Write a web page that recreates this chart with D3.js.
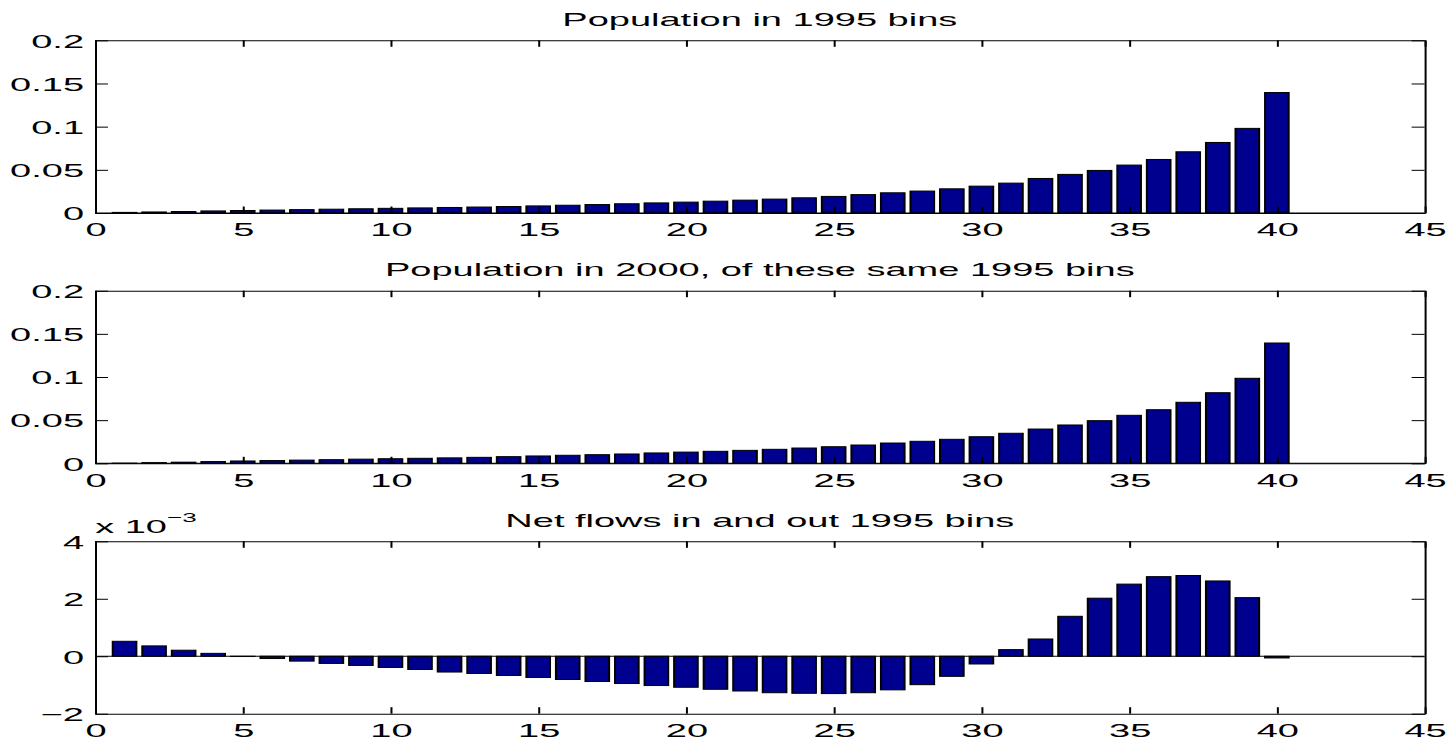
<!DOCTYPE html>
<html>
<head>
<meta charset="utf-8">
<script src="https://cdn.jsdelivr.net/npm/d3@7"></script>
<style>
  html, body { margin: 0; padding: 0; background: #fff; }
  svg { display: block; }
  text { font-family: "Liberation Sans", Arial, Helvetica, sans-serif; fill: #000; }
</style>
</head>
<body>
<div id="chart"></div>
<script>
// bins 1..40
const bins = d3.range(1, 41);

// share of population in each 1995 bin
const pop1995 = [
  0.0007, 0.0012, 0.0017, 0.0024, 0.0029, 0.0034, 0.0039, 0.0044, 0.0049, 0.0054,
  0.0059, 0.0064, 0.0069, 0.0075, 0.0082, 0.0090, 0.0098, 0.0107, 0.0117, 0.0126,
  0.0137, 0.0149, 0.0161, 0.0176, 0.0192, 0.0213, 0.0234, 0.0254, 0.0280, 0.0311,
  0.0346, 0.0400, 0.0447, 0.0493, 0.0555, 0.0620, 0.0709, 0.0817, 0.0980, 0.1395
];

// same bins, measured in 2000
const pop2000 = [
  0.0002, 0.0008, 0.0013, 0.0020, 0.0027, 0.0032, 0.0037, 0.0042, 0.0048, 0.0053,
  0.0058, 0.0063, 0.0069, 0.0077, 0.0085, 0.0093, 0.0100, 0.0108, 0.0120, 0.0130,
  0.0139, 0.0150, 0.0162, 0.0177, 0.0192, 0.0212, 0.0235, 0.0255, 0.0278, 0.0308,
  0.0348, 0.0397, 0.0444, 0.0494, 0.0556, 0.0621, 0.0707, 0.0818, 0.0985, 0.1394
];

// net flows, in units of 1e-3
const netFlows = [
  0.52, 0.36, 0.21, 0.10, -0.01, -0.08, -0.17, -0.25, -0.32, -0.39,
  -0.46, -0.55, -0.60, -0.67, -0.74, -0.81, -0.88, -0.95, -1.02, -1.08,
  -1.15, -1.21, -1.27, -1.29, -1.30, -1.27, -1.17, -0.99, -0.70, -0.27,
  0.23, 0.60, 1.39, 2.02, 2.51, 2.77, 2.81, 2.62, 2.04, -0.06
];

const xTicks = d3.range(0, 46, 5);
const popTicks = [0, 0.05, 0.1, 0.15, 0.2];
const popTickLabels = ["0", "0.05", "0.1", "0.15", "0.2"];
const flowTicks = [-2, 0, 2, 4];
const flowTickLabels = ["\u22122", "0", "2", "4"];

const titles = [
  "Population in 1995 bins",
  "Population in 2000, of these same 1995 bins",
  "Net flows in and out 1995 bins"
];

// the picture is stretched 2x horizontally, so draw in a half-width viewBox
const W = 1451, H = 741, SX = 2;
const left = 47.5, right = 712.3;
const fontSize = 19;
const barColor = "#00008f";

const svg = d3.select("#chart")
  .append("svg")
  .attr("width", W)
  .attr("height", H)
  .attr("viewBox", `0 0 ${W / SX} ${H}`)
  .attr("preserveAspectRatio", "none");

const x = d3.scaleLinear().domain([0, 45]).range([left, right]);

const panels = [
  { top: 40.3, bottom: 213, values: pop1995, domain: [0, 0.2], ticks: popTicks, labels: popTickLabels },
  { top: 290.7, bottom: 463.3, values: pop2000, domain: [0, 0.2], ticks: popTicks, labels: popTickLabels },
  { top: 541.3, bottom: 713.7, values: netFlows, domain: [-2, 4], ticks: flowTicks, labels: flowTickLabels }
];

panels.forEach((p, k) => {
  const y = d3.scaleLinear().domain(p.domain).range([p.bottom, p.top]);
  const g = svg.append("g");

  // bars
  g.append("g")
    .selectAll("rect")
    .data(bins)
    .join("rect")
    .attr("x", (d) => x(d - 0.4))
    .attr("width", x(0.8) - x(0))
    .attr("y", (d, i) => y(Math.max(0, p.values[i])))
    .attr("height", (d, i) => Math.abs(y(p.values[i]) - y(0)))
    .attr("fill", barColor)
    .attr("stroke", "#000")
    .attr("stroke-width", 1);

  // baseline at zero
  g.append("line")
    .attr("x1", x(0))
    .attr("x2", x(45))
    .attr("y1", y(0))
    .attr("y2", y(0))
    .attr("stroke", "#000")
    .attr("stroke-width", 1);

  const tick = 6.5;

  const axB = g.append("g")
    .attr("transform", `translate(0,${p.bottom})`)
    .call(d3.axisBottom(x).tickValues(xTicks).tickSizeInner(-tick).tickSizeOuter(0).tickPadding(10).tickFormat(d3.format("d")));
  g.append("g")
    .attr("transform", `translate(0,${p.top})`)
    .call(d3.axisTop(x).tickValues(xTicks).tickSizeInner(-tick).tickSizeOuter(0).tickFormat(""));
  const axL = g.append("g")
    .attr("transform", `translate(${left},0)`)
    .call(d3.axisLeft(y).tickValues(p.ticks).tickSizeInner(-tick).tickSizeOuter(0).tickPadding(5.5)
      .tickFormat((d, i) => p.labels[i]));
  g.append("g")
    .attr("transform", `translate(${right},0)`)
    .call(d3.axisRight(y).tickValues(p.ticks).tickSizeInner(-tick).tickSizeOuter(0).tickFormat(""));

  g.selectAll(".domain, .tick line").attr("stroke", "#000").attr("stroke-width", 1);
  g.selectAll(".tick text")
    .attr("font-size", fontSize)
    .attr("font-family", "Liberation Sans, Arial, Helvetica, sans-serif")
    .attr("fill", "#000");
  axL.selectAll(".tick text").attr("dy", "0.36em");
  g.selectAll("g").attr("font-size", null).attr("font-family", null);

  // title
  g.append("text")
    .attr("x", (left + right) / 2)
    .attr("y", p.top - 14.5)
    .attr("text-anchor", "middle")
    .attr("font-size", fontSize)
    .text(titles[k]);
});

// exponent label of the net flows panel
const expLabel = svg.append("text")
  .attr("x", 47.6)
  .attr("y", 533.3)
  .attr("font-size", fontSize);
expLabel.append("tspan").text("x 10");
expLabel.append("tspan")
  .attr("dy", -11.6)
  .attr("font-size", 13)
  .text("\u22123");
</script>
</body>
</html>
